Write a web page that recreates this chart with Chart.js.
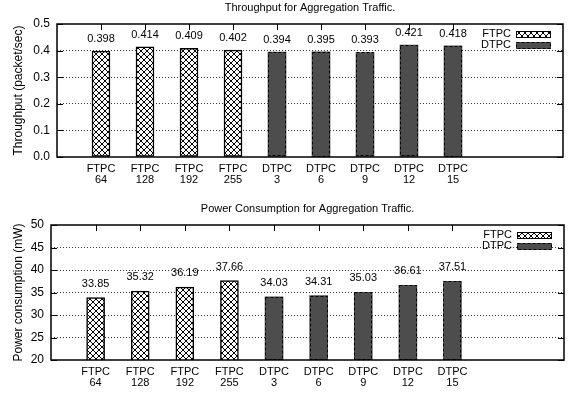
<!DOCTYPE html>
<html>
<head>
<meta charset="utf-8">
<script src="https://cdn.jsdelivr.net/npm/chart.js@4.4.1/dist/chart.umd.min.js"></script>
<style>
  html, body { margin: 0; padding: 0; background: #fff; }
  #wrap { position: relative; width: 569px; height: 394px; }
  canvas { position: absolute; left: 0; }
</style>
</head>
<body>
<div id="wrap">
  <canvas id="throughputChart" width="569" height="197" style="top:0"></canvas>
  <canvas id="powerChart" width="569" height="197" style="top:197px"></canvas>
</div>
<script>
// ── Data ────────────────────────────────────────────

const categories = [
  ['FTPC', '64'], ['FTPC', '128'], ['FTPC', '192'], ['FTPC', '255'],
  ['DTPC', '3'], ['DTPC', '6'], ['DTPC', '9'], ['DTPC', '12'], ['DTPC', '15'],
];
const seriesNames = ['FTPC', 'DTPC'];

const ftpcThroughput = [0.398, 0.414, 0.409, 0.402];
const dtpcThroughput = [0.394, 0.395, 0.393, 0.421, 0.418];

const ftpcPower = [33.85, 35.32, 36.19, 37.66];
const dtpcPower = [34.03, 34.31, 35.03, 36.61, 37.51];

// ── Helpers ─────────────────────────────────────────

Chart.defaults.font.family = "'Liberation Sans', Arial, sans-serif";
Chart.defaults.color = '#000';

const DTPC_FILL = '#4d4d4d';

function makeHatch(ctx) {
  const c = document.createElement('canvas');
  c.width = 6; c.height = 6;
  const g = c.getContext('2d');
  g.fillStyle = '#fff';
  g.fillRect(0, 0, 6, 6);
  g.strokeStyle = '#000';
  g.lineWidth = 1;
  g.beginPath();
  g.moveTo(0, 0); g.lineTo(6, 6);
  g.moveTo(6, 0); g.lineTo(0, 6);
  g.stroke();
  return ctx.createPattern(c, 'repeat');
}

// index of each bar on the x axis (FTPC first, DTPC after)
function points(values, start) {
  return values.map((v, i) => ({ x: start + i, y: v }));
}

// frame, mirrored ticks, value labels, legend and title in gnuplot style
const gnuplotFrame = {
  id: 'gnuplotFrame',
  afterDatasetsDraw(chart, args, o) {
    const { ctx, chartArea: a, scales: { x, y } } = chart;
    ctx.save();

    // dashed outline on the solid bars (clipped to the plot)
    ctx.strokeStyle = '#000';
    ctx.lineWidth = 1;
    ctx.setLineDash([3, 2]);
    chart.getDatasetMeta(1).data.forEach(bar => {
      const p = bar.getProps(['x', 'y', 'base', 'width'], true);
      const top = Math.max(Math.min(p.y, p.base), a.top);
      const base = Math.min(Math.max(p.y, p.base), a.bottom);
      ctx.strokeRect(Math.round(p.x - p.width / 2) + 0.5, Math.round(top) + 0.5,
                     Math.round(p.width) - 1, Math.round(base - top) - 1);
    });
    ctx.setLineDash([]);

    // ticks pointing inward
    ctx.lineWidth = 1;
    y.ticks.forEach(t => {
      const py = Math.round(y.getPixelForValue(t.value)) + 0.5;
      ctx.beginPath();
      ctx.moveTo(a.left, py); ctx.lineTo(a.left + 6, py);
      ctx.moveTo(a.right - 6, py); ctx.lineTo(a.right, py);
      ctx.stroke();
    });
    x.ticks.forEach(t => {
      const px = Math.round(x.getPixelForValue(t.value)) + 0.5;
      ctx.beginPath();
      ctx.moveTo(px, a.top); ctx.lineTo(px, a.top + 6);
      ctx.stroke();
    });

    // border
    ctx.lineWidth = 1.5;
    ctx.strokeRect(a.left, a.top, a.right - a.left, a.bottom - a.top);

    // value labels
    ctx.font = "11px 'Liberation Sans', Arial, sans-serif";
    ctx.fillStyle = '#000';
    ctx.textAlign = 'center';
    ctx.textBaseline = 'middle';
    chart.data.datasets.forEach((ds, di) => {
      chart.getDatasetMeta(di).data.forEach((bar, i) => {
        ctx.fillText(ds.data[i].y.toFixed(o.digits), bar.x, bar.y - o.labelGap);
      });
    });

    // legend
    chart.data.datasets.forEach((ds, di) => {
      const ly = a.top + 10 + di * 11;
      ctx.textAlign = 'right';
      ctx.fillStyle = '#000';
      ctx.fillText(ds.label, a.right - 52, ly);
      const sx = a.right - 47, sy = Math.round(ly - 3.5);
      ctx.fillStyle = ds.backgroundColor;
      ctx.fillRect(sx, sy, 35, 7);
      ctx.lineWidth = 1;
      if (di === 1) ctx.setLineDash([3, 2]);
      ctx.strokeRect(sx + 0.5, sy + 0.5, 34, 6);
      ctx.setLineDash([]);
    });

    // title
    ctx.fillStyle = '#000';
    ctx.textAlign = 'center';
    ctx.fillText(o.title, (a.left + a.right) / 2, a.top - 16.5);
    ctx.restore();
  },
};

function renderChart(id, cfg) {
  const canvas = document.getElementById(id);
  const ctx = canvas.getContext('2d');

  return new Chart(canvas, {
    type: 'bar',
    data: {
      datasets: [
        {
          label: seriesNames[0],
          data: points(cfg.ftpc, 0),
          backgroundColor: makeHatch(ctx),
          borderColor: '#000',
          borderWidth: 1.5,
          borderSkipped: false,
          barThickness: 18,
          grouped: false,
        },
        {
          label: seriesNames[1],
          data: points(cfg.dtpc, cfg.ftpc.length),
          backgroundColor: DTPC_FILL,
          borderWidth: 0,
          barThickness: 18,
          grouped: false,
        },
      ],
    },
    options: {
      responsive: false,
      animation: false,
      layout: { padding: { top: cfg.padTop, right: cfg.padRight, left: 0, bottom: 0 } },
      plugins: {
        legend: { display: false },
        tooltip: { enabled: false },
        gnuplotFrame: { title: cfg.title, digits: cfg.digits, labelGap: cfg.labelGap },
      },
      scales: {
        x: {
          type: 'linear',
          min: -1,
          max: 10.5,
          offset: false,
          grid: { display: false, drawTicks: false },
          border: { display: false },
          afterBuildTicks: scale => { scale.ticks = categories.map((c, i) => ({ value: i })); },
          afterFit: scale => { scale.height = cfg.xHeight; },
          ticks: {
            autoSkip: false,
            maxRotation: 0,
            minRotation: 0,
            padding: 6,
            font: { size: 11, lineHeight: 1 },
            callback: v => categories[v],
          },
        },
        y: {
          min: cfg.yMin,
          max: cfg.yMax,
          grid: {
            drawTicks: false,
            lineWidth: 1,
            color: c => (c.index === 0 || c.index === c.scale.ticks.length - 1) ? 'rgba(0,0,0,0)' : '#333',
          },
          border: { display: false, dash: [1, 2] },
          afterFit: scale => { scale.width = cfg.yWidth; },
          ticks: {
            stepSize: cfg.yStep,
            padding: 7,
            font: { size: 12 },
            callback: v => v.toFixed(cfg.yDecimals),
          },
          title: {
            display: true,
            text: cfg.yTitle,
            font: { size: 12 },
            padding: { top: 11, bottom: 0 },
          },
        },
      },
    },
    plugins: [gnuplotFrame],
  });
}

renderChart('throughputChart', {
  title: 'Throughput for Aggregation Traffic.',
  yTitle: 'Throughput (packet/sec)',
  ftpc: ftpcThroughput,
  dtpc: dtpcThroughput,
  yMin: 0, yMax: 0.5, yStep: 0.1, yDecimals: 1,
  digits: 3, labelGap: 12,
  padTop: 24, padRight: 6, yWidth: 57, xHeight: 40,
});

renderChart('powerChart', {
  title: 'Power Consumption for Aggregation Traffic.',
  yTitle: 'Power consumption (mW)',
  ftpc: ftpcPower,
  dtpc: dtpcPower,
  yMin: 20, yMax: 50, yStep: 5, yDecimals: 0,
  digits: 2, labelGap: 14,
  padTop: 28, padRight: 5, yWidth: 51, xHeight: 34,
});
</script>
</body>
</html>
